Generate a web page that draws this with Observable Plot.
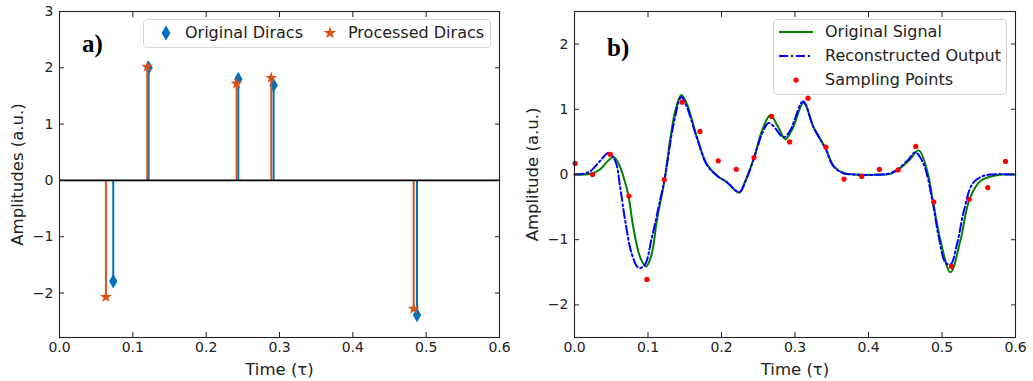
<!DOCTYPE html>
<html><head><meta charset="utf-8">
<script src="https://cdn.jsdelivr.net/npm/d3@7"></script>
<script src="https://cdn.jsdelivr.net/npm/@observablehq/plot@0.6"></script>
<style>
body{margin:0;background:#fff;font-family:"DejaVu Sans",sans-serif;}
#wrap{position:relative;width:1033px;height:381px;display:flex;overflow:hidden;}
.legend{position:absolute;background:rgba(255,255,255,0.85);border:1px solid #d6d6d6;border-radius:4px;font-size:16px;color:#222;box-sizing:border-box;}
.legend span{position:absolute;white-space:nowrap;line-height:16px;}
.legend svg{position:absolute;overflow:visible;}
.tag{position:absolute;font-family:"Liberation Serif",serif;font-weight:bold;font-size:25px;color:#000;line-height:25px;}
</style></head><body>
<div id="wrap"><div id="pa"></div><div id="pb"></div></div>
<script>
// ---------- Panel a) data ----------
const diracTimesOrig = [0.0733, 0.1215, 0.2438, 0.2920, 0.4875];
const diracAmpsOrig  = [-1.79, 2.00, 1.80, 1.69, -2.39];
const diracTimesProc = [0.0633, 0.1197, 0.2415, 0.2888, 0.4830];
const diracAmpsProc  = [-2.07, 2.02, 1.72, 1.82, -2.28];
const xTickValues = [0, 0.1, 0.2, 0.3, 0.4, 0.5, 0.6];
const yTicksA = [-2, -1, 0, 1, 2, 3];
const yTicksB = [-2, -1, 0, 1, 2];

// ---------- Panel b) data ----------
const origT = [0, 0.015, 0.025, 0.035, 0.044, 0.053, 0.060, 0.067, 0.0735, 0.080, 0.0894, 0.0976, 0.105, 0.112, 0.1225, 0.130, 0.137, 0.1453, 0.153, 0.1666, 0.180, 0.194, 0.2075, 0.2242, 0.2324, 0.2442, 0.255, 0.2664, 0.277, 0.2869, 0.2937, 0.2982, 0.3118, 0.3254, 0.3413, 0.3526, 0.3662, 0.38, 0.42, 0.43, 0.4412, 0.4548, 0.4684, 0.4797, 0.488, 0.4979, 0.5115, 0.5251, 0.5374, 0.5523, 0.5705, 0.585, 0.6];
const origV = [0, 0, 0.02, 0.08, 0.19, 0.27, 0.17, -0.05, -0.33, -0.81, -1.27, -1.41, -1.22, -0.71, -0.08, 0.52, 0.97, 1.22, 1.08, 0.57, 0.16, -0.02, -0.12, -0.28, -0.10, 0.255, 0.67, 0.91, 0.73, 0.54, 0.64, 0.74, 1.10, 0.72, 0.41, 0.13, 0.02, 0, 0, 0.01, 0.08, 0.21, 0.37, 0.06, -0.43, -1.01, -1.50, -1.01, -0.38, -0.10, -0.02, 0, 0];
const reconT = [0, 0.012, 0.0214, 0.035, 0.0463, 0.0554, 0.0622, 0.069, 0.078, 0.0871, 0.0949, 0.1054, 0.1144, 0.1225, 0.1348, 0.1453, 0.152, 0.1666, 0.180, 0.194, 0.2075, 0.2242, 0.2324, 0.2442, 0.255, 0.2638, 0.270, 0.2847, 0.2937, 0.2982, 0.311, 0.3254, 0.3413, 0.3526, 0.3662, 0.38, 0.42, 0.43, 0.4412, 0.455, 0.4638, 0.475, 0.4866, 0.4956, 0.5047, 0.5115, 0.5206, 0.5297, 0.541, 0.5523, 0.565, 0.6];
const reconV = [0, 0.01, 0.05, 0.21, 0.33, 0.21, -0.20, -0.71, -1.22, -1.43, -1.40, -0.96, -0.50, -0.08, 0.77, 1.19, 1.06, 0.56, 0.15, -0.02, -0.12, -0.27, -0.11, 0.25, 0.62, 0.79, 0.75, 0.57, 0.68, 0.80, 1.12, 0.72, 0.40, 0.12, 0.02, 0, 0, 0.02, 0.09, 0.24, 0.34, 0.16, -0.38, -0.96, -1.35, -1.38, -1.06, -0.56, -0.15, -0.04, 0, 0];
const sampleT = [0.0009, 0.0245, 0.0486, 0.0740, 0.0985, 0.1221, 0.1466, 0.1707, 0.1956, 0.2201, 0.2442, 0.2682, 0.2927, 0.3177, 0.3422, 0.3667, 0.3908, 0.4149, 0.4403, 0.4643, 0.4888, 0.5129, 0.5369, 0.5623, 0.5864];
const sampleV = [0.17, 0, 0.31, -0.33, -1.61, -0.08, 1.11, 0.66, 0.21, 0.08, 0.26, 0.89, 0.50, 1.17, 0.42, -0.07, -0.03, 0.08, 0.07, 0.43, -0.42, -1.41, -0.38, -0.20, 0.20];

const BLUE = "#0072BD", ORANGE = "#D95319";
const DASHDOT = "9,3,2,3";
const orig = diracTimesOrig.map((t, i) => ({t, a: diracAmpsOrig[i]}));
const proc = diracTimesProc.map((t, i) => ({t, a: diracAmpsProc[i]}));
const sig = origT.map((t, i) => ({t, v: origV[i]}));
const rec = reconT.map((t, i) => ({t, v: reconV[i]}));
const smp = sampleT.map((t, i) => ({t, v: sampleV[i]}));

const fmtX = d3.format(".1f");
const fmtY = d3.format("d");
const common = {fontFamily: "DejaVu Sans", fontSize: "14px", color: "#222", background: "transparent", overflow: "visible"};

function frameAxes(yTicks, xLabel, yLabel) {
  return [
    Plot.frame({stroke: "#222", strokeWidth: 1.1}),
    Plot.axisX({ticks: xTickValues, tickFormat: fmtX, tickSize: -5, tickPadding: 10, label: null}),
    Plot.axisX({anchor: "top", ticks: xTickValues, tickFormat: () => "", tickSize: -5, label: null}),
    Plot.axisY({ticks: yTicks, tickFormat: fmtY, tickSize: -5, tickPadding: 11, label: null}),
    Plot.axisY({anchor: "right", ticks: yTicks, tickFormat: () => "", tickSize: -5, label: null}),
    Plot.axisX({ticks: [], label: xLabel, labelAnchor: "center", labelArrow: "none", labelOffset: 37, fontSize: 16.5}),
    Plot.axisY({ticks: [], label: yLabel, labelAnchor: "center", labelArrow: "none", labelOffset: 48, fontSize: 16.5})
  ];
}

const plotA = Plot.plot({
  width: 515, height: 381, marginLeft: 59, marginRight: 16, marginTop: 11, marginBottom: 44,
  style: common,
  x: {domain: [0, 0.6]},
  y: {domain: [-2.79, 3]},
  marks: [
    Plot.ruleX(orig, {x: "t", y1: 0, y2: "a", stroke: BLUE, strokeWidth: 2}),
    Plot.dot(orig, {x: "t", y: "a", symbol: "diamond", r: 4.4, fill: BLUE, stroke: "none"}),
    Plot.ruleX(proc, {x: "t", y1: 0, y2: "a", stroke: ORANGE, strokeWidth: 2}),
    Plot.dot(proc, {x: "t", y: "a", symbol: "star", r: 3.8, fill: ORANGE, stroke: "none"}),
    Plot.ruleY([0], {stroke: "#000", strokeWidth: 1.6}),
    ...frameAxes(yTicksA, "Time (τ)", "Amplitudes (a.u.)")
  ]
});

const plotB = Plot.plot({
  width: 518, height: 381, marginLeft: 59, marginRight: 18, marginTop: 11, marginBottom: 44,
  style: common,
  x: {domain: [0, 0.6]},
  y: {domain: [-2.5, 2.5]},
  marks: [
    Plot.line(sig, {x: "t", y: "v", stroke: "#008000", strokeWidth: 2, curve: "catmull-rom"}),
    Plot.line(rec, {x: "t", y: "v", stroke: "#0000ff", strokeWidth: 2, strokeDasharray: DASHDOT, curve: "catmull-rom"}),
    Plot.dot(smp, {x: "t", y: "v", r: 2.6, fill: "#ff0000", stroke: "none"}),
    ...frameAxes(yTicksB, "Time (τ)", "Amplitude (a.u.)")
  ]
});

document.getElementById("pa").appendChild(plotA);
document.getElementById("pb").appendChild(plotB);

// ---------- in-plot legends and panel tags ----------
const wrap = document.getElementById("wrap");
function el(tag, cls, css, html) {
  const e = document.createElement(tag);
  if (cls) e.className = cls;
  Object.assign(e.style, css);
  if (html != null) e.innerHTML = html;
  return e;
}
function sym(type, r, color) {
  const p = d3.symbol(type, Math.PI * r * r)();
  return `<svg width="1" height="1"><path d="${p}" fill="${color}"/></svg>`;
}
const legA = el("div", "legend", {left: "143px", top: "19px", width: "348px", height: "29px"});
legA.appendChild(el("div", null, {position: "absolute", left: "22px", top: "13px"}, sym(d3.symbolDiamond, 4.6, BLUE)));
legA.appendChild(el("span", null, {left: "41px", top: "5px"}, "Original Diracs"));
legA.appendChild(el("div", null, {position: "absolute", left: "186px", top: "13px"}, sym(d3.symbolStar, 4.0, ORANGE)));
legA.appendChild(el("span", null, {left: "204px", top: "5px"}, "Processed Diracs"));
wrap.appendChild(legA);

const legB = el("div", "legend", {left: "773px", top: "19px", width: "234px", height: "76px"});
legB.appendChild(el("div", null, {position: "absolute", left: "5px", top: "12px"}, `<svg width="36" height="2" style="overflow:visible"><line x1="0" x2="34" y1="0" y2="0" stroke="#008000" stroke-width="2"/></svg>`));
legB.appendChild(el("span", null, {left: "51px", top: "4px"}, "Original Signal"));
legB.appendChild(el("div", null, {position: "absolute", left: "5px", top: "36px"}, `<svg width="36" height="2" style="overflow:visible"><line x1="0" x2="34" y1="0" y2="0" stroke="#0000ff" stroke-width="2" stroke-dasharray="${DASHDOT}"/></svg>`));
legB.appendChild(el("span", null, {left: "51px", top: "28px"}, "Reconstructed Output"));
legB.appendChild(el("div", null, {position: "absolute", left: "22px", top: "60px"}, sym(d3.symbolCircle, 2.6, "#ff0000")));
legB.appendChild(el("span", null, {left: "51px", top: "52px"}, "Sampling Points"));
wrap.appendChild(legB);

wrap.appendChild(el("div", "tag", {left: "82px", top: "31px"}, "a)"));
wrap.appendChild(el("div", "tag", {left: "607px", top: "35px"}, "b)"));
</script>
</body></html>
